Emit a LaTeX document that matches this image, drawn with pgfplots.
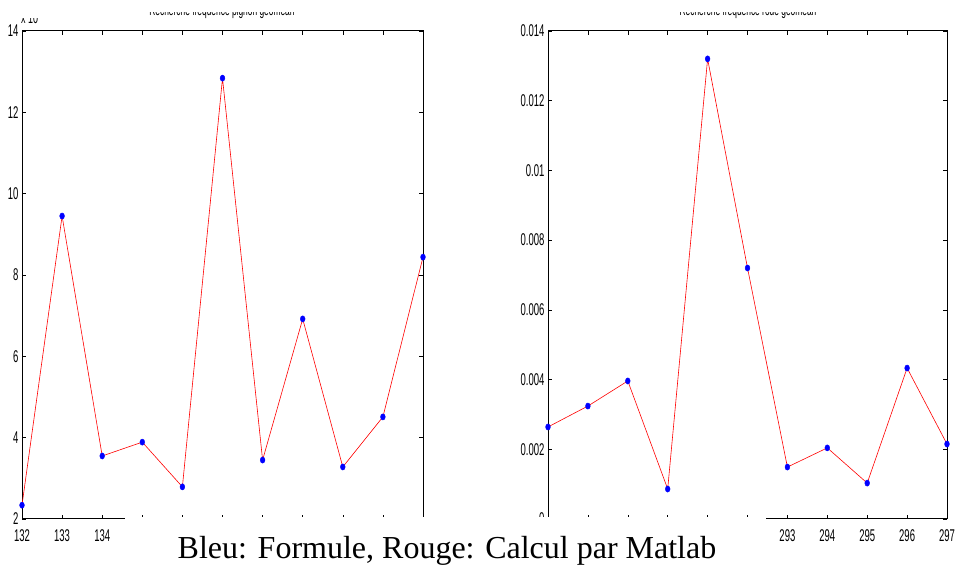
\documentclass[border=0pt]{standalone}
\usepackage{fontspec}
\setmainfont{Liberation Serif}
\newfontfamily\narrow[FakeStretch=0.56]{Liberation Sans}
\usepackage{pgfplots}
\pgfplotsset{compat=1.18}
\begin{document}
\begin{tikzpicture}[x=1pt,y=1pt]
\useasboundingbox (0,0) rectangle (956,569);
\pgfplotsset{
  mstyle/.style={
    scale only axis, anchor=south west,
    height=488pt,
    axis line style={line width=1pt},
    tick style={black, line width=0.6pt},
    major tick length=4pt,
    tick align=inside,
    tick label style={font=\narrow\fontsize{17}{17}\selectfont},
    /pgf/number format/assume math mode=true,
    scaled y ticks=false,
    clip=false,
  }
}
\begin{axis}[mstyle, at={(22pt,50pt)}, width=401pt,
  xmin=132, xmax=142, ymin=2, ymax=14,
  xtick={132,...,142}, ytick={2,4,...,14},
  xticklabels={132,133,134,,,,,,,,},
  xticklabel style={yshift=-7pt}]
\addplot[red, line width=0.6pt] coordinates {
(132,2.34) (133,9.45) (134,3.55) (135,3.89) (136,2.79) (137,12.84)
(138,3.45) (139,6.92) (140,3.28) (141,4.51) (142,8.44)};
\addplot[blue, only marks, mark=*, mark size=2.4pt, mark options={yscale=1.3}] coordinates {
(132,2.34) (133,9.45) (134,3.55) (135,3.89) (136,2.79) (137,12.84)
(138,3.45) (139,6.92) (140,3.28) (141,4.51) (142,8.44)};
\end{axis}
\begin{axis}[mstyle, at={(548pt,50pt)}, width=399pt,
  xmin=287, xmax=297, ymin=0, ymax=0.014,
  xtick={287,...,297}, ytick={0,0.002,...,0.014},
  xticklabels={,,,,,,293,294,295,296,297},
  yticklabel style={/pgf/number format/fixed, /pgf/number format/precision=3},
  xticklabel style={yshift=-7pt}]
\addplot[red, line width=0.6pt] coordinates {
(287,0.00264) (288,0.00324) (289,0.00396) (290,0.00086) (291,0.0132) (292,0.0072)
(293,0.00149) (294,0.00204) (295,0.00103) (296,0.00433) (297,0.00215)};
\addplot[blue, only marks, mark=*, mark size=2.4pt, mark options={yscale=1.3}] coordinates {
(287,0.00264) (288,0.00324) (289,0.00396) (290,0.00086) (291,0.0132) (292,0.0072)
(293,0.00149) (294,0.00204) (295,0.00103) (296,0.00433) (297,0.00215)};
\end{axis}
% titles and exponent label
\node[anchor=base, font=\narrow\fontsize{15}{15}\selectfont, inner sep=0pt] at (222,553) {Recherche fréquence pignon geomean};
\node[anchor=base, font=\narrow\fontsize{15}{15}\selectfont, inner sep=0pt] at (748,553) {Recherche fréquence roue geomean};
\node[anchor=base west, font=\narrow\fontsize{16}{16}\selectfont, inner sep=0pt] at (21,545) {x 10\raisebox{6pt}{\fontsize{11}{11}\selectfont -3}};
\fill[white] (0,557) rectangle (956,569);
\fill[white] (0,551) rectangle (60,569);
% caption band
\fill[white] (125,0) rectangle (766,52);
\node[anchor=base, font=\fontsize{32}{36}\selectfont, inner sep=0pt] at (447,10) {Bleu: Formule, Rouge: Calcul par Matlab};
\end{tikzpicture}
\end{document}
